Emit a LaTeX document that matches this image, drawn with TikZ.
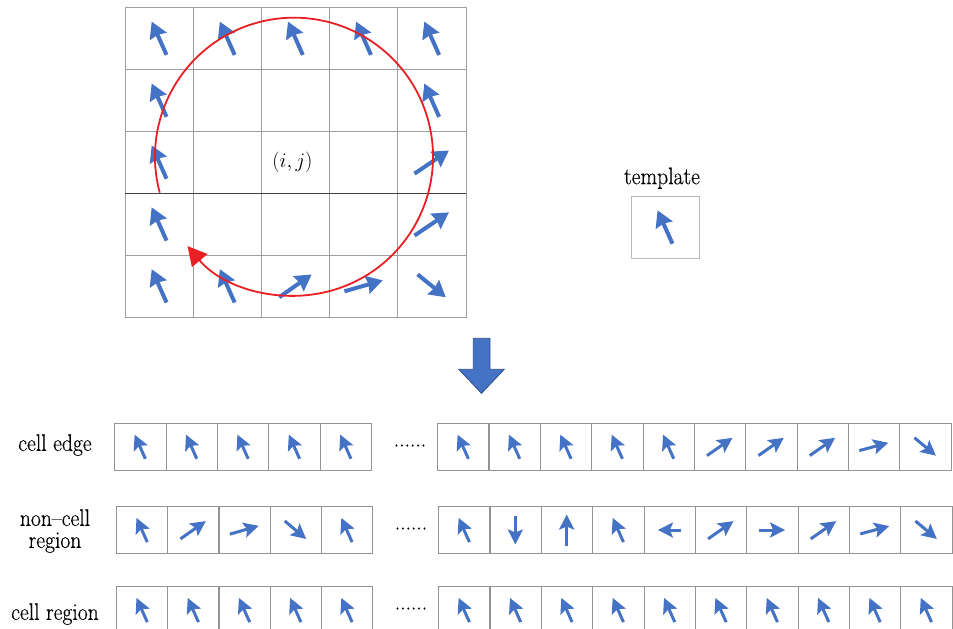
\documentclass[tikz,border=0pt]{standalone}
\usepackage{fontspec}
\newfontfamily\tpfont{Latin Modern Roman}[Ligatures=TeX, FakeStretch=0.9, FakeBold=0.4]
\usetikzlibrary{positioning, arrows.meta}
\definecolor{tpblue}{RGB}{68,114,196}
\definecolor{tpred}{RGB}{232,32,36}
\tikzset{
  tpcell/.style ={rectangle, draw=gray!75, outer sep=0pt, inner sep=0pt,
                  minimum width=68.15pt, minimum height=61.9pt},
  tpsmall/.style={rectangle, draw=gray!85, outer sep=0pt, inner sep=0pt,
                  minimum width=51.4pt, minimum height=46.7pt},
  tparr/.style  ={-{Stealth[length=16pt, width=18pt, inset=1.5pt]}, line width=4pt, tpblue},
  tparrs/.style ={-{Stealth[length=15pt, width=15pt, inset=3pt]}, line width=3pt, tpblue},
  tpring/.style ={-{Triangle[length=19pt, width=20pt]}, line width=1.8pt, tpred},
  tplbl/.style  ={font=\tpfont\fontsize{24}{22}\selectfont, align=center, inner sep=0pt},
}
% arrow of given angle and length through the centre of a cell
\newcommand{\tpspin}[4]{\draw[#1] (#2.center) ++(#3:{-#4/2}) -- ++(#3:{#4});}

\begin{document}
\begin{tikzpicture}[x=1pt, y=-1pt]
    \useasboundingbox (0,0) rectangle (953,629);
    % 5x5 neighbourhood
    \foreach \r in {1,...,5}
      \foreach \c in {1,...,5}
        \node[tpcell] (g\r\c) at ({159.1+(\c-1)*68.15},{38.25+(\r-1)*61.9}) {};
    \draw[black!75] (g31.south west) -- (g35.south east);
    \node[font=\fontsize{21}{24}\selectfont, inner sep=0pt, xshift=-3pt] (ij) at (g33) {$(i,j)$};
    \foreach \c in {1,...,5} {\tpspin{tparr}{g1\c}{246}{36.5}}
    \foreach \r in {2,...,5} {\tpspin{tparr}{g\r1}{246}{36.5}}
    \tpspin{tparr}{g25}{246}{36.5}
    \tpspin{tparr}{g35}{326}{41.5}
    \tpspin{tparr}{g45}{326}{41.5}
    \tpspin{tparr}{g52}{246}{36.5}
    \tpspin{tparr}{g53}{325}{39.7}
    \tpspin{tparr}{g54}{344}{39.8}
    \tpspin{tparr}{g55}{39}{36.3}
    \coordinate (ctr) at (294,156.7);
    \draw[tpring] (ctr) ++(165:139) arc[start angle=165, end angle=500, radius=139];
    % template
    \node[tpcell, draw=gray!55] (tmpl) at (665,227) {};
    \node[tplbl, above=7pt of tmpl, xshift=-3pt] (tmpllbl) {template};
    \tpspin{tparr}{tmpl}{246}{36.5}
    % big arrow
    \fill[tpblue, draw=tpblue!70!black, line width=0.8pt]
      (473.3,338.3) -- (490,338.3) -- (490,369.3) -- (504.3,369.3)
      -- (481.5,393.3) -- (458.7,369.3) -- (473.3,369.3) -- cycle;
    % cell edge
    \node[tplbl] (edge) at (55,445) {cell edge};
    \foreach \a/\l [count=\k] in {246/26.5,246/26.5,246/26.5,246/26.5,246/26.5} {
      \node[tpsmall] (ea\k) at ({140+(\k-1)*51.4},446.7) {};
      \tpspin{tparrs}{ea\k}{\a}{\l}
    }
    \node[tplbl, anchor=base] (edots) at (410,446.5) {......};
    \foreach \a/\l [count=\k] in {246/26.5,246/26.5,246/26.5,246/26.5,246/26.5,
                                   325/31,325/31,325/31,345/30,40/28} {
      \node[tpsmall] (eb\k) at ({463+(\k-1)*51.35},446.7) {};
      \tpspin{tparrs}{eb\k}{\a}{\l}
    }
    % non-cell region
    \node[tplbl] (non) at (55,531) {non--cell\\region};
    \foreach \a/\l [count=\k] in {246/26.5,325/31,344/30,40/28,246/26.5} {
      \node[tpsmall] (na\k) at ({141.9+(\k-1)*51.2},530) {};
      \tpspin{tparrs}{na\k}{\a}{\l}
    }
    \node[tplbl, anchor=base] (ndots) at (411,529.5) {......};
    \foreach \a/\l [count=\k] in {246/26.5,90/29,270/31,246/26.5,180/23,
                                   325/31,0/26,325/31,345/30,40/28} {
      \node[tpsmall] (nb\k) at ({464+(\k-1)*51.35},530) {};
      \tpspin{tparrs}{nb\k}{\a}{\l}
    }
    % cell region
    \node[tplbl] (reg) at (55,614) {cell region};
    \foreach \k in {1,...,5} {
      \node[tpsmall] (ra\k) at ({141.9+(\k-1)*51.2},610) {};
      \tpspin{tparrs}{ra\k}{246}{26.5}
    }
    \node[tplbl, anchor=base] (rdots) at (411,609.5) {......};
    \foreach \k in {1,...,10} {
      \node[tpsmall] (rb\k) at ({464+(\k-1)*51.35},610) {};
      \tpspin{tparrs}{rb\k}{246}{26.5}
    }
\end{tikzpicture}
\end{document}
